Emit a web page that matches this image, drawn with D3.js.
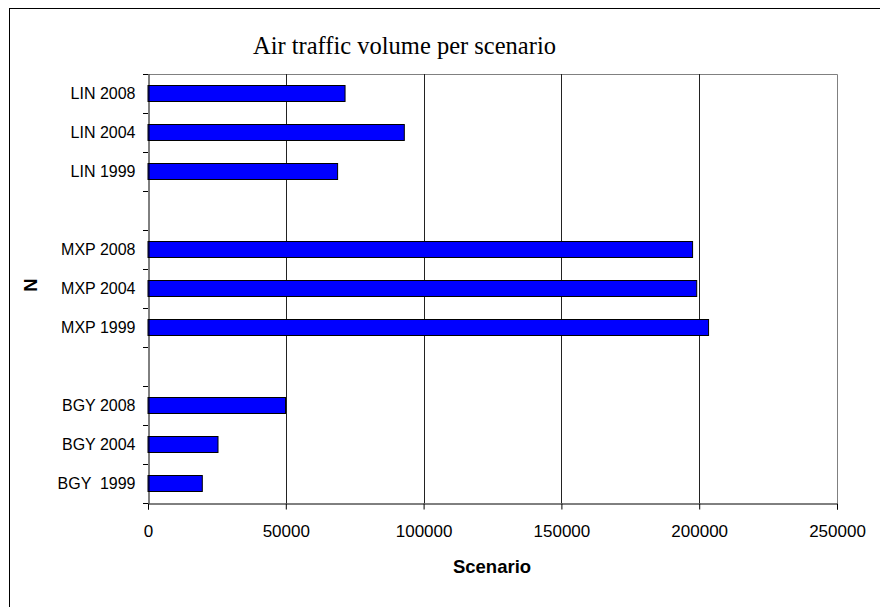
<!DOCTYPE html>
<html>
<head>
<meta charset="utf-8">
<script src="https://cdn.jsdelivr.net/npm/d3@7"></script>
<style>
  html, body { margin: 0; padding: 0; background: #fff; }
  svg { display: block; }
  text { font-family: Arial, "Liberation Sans", sans-serif; fill: #000; }
</style>
</head>
<body>
<svg id="chart" width="880" height="607"></svg>
<script>
// Scenario rows from top to bottom; empty strings are spacer rows between airports
const categories = ["LIN 2008", "LIN 2004", "LIN 1999", "", "MXP 2008", "MXP 2004", "MXP 1999", "", "BGY 2008", "BGY 2004", "BGY  1999"];
const volumes = [71500, 93000, 68800, null, 197600, 199100, 203400, null, 49900, 25400, 19700];
const xTicks = [0, 50000, 100000, 150000, 200000, 250000];

const svg = d3.select("#chart");
const margin = { left: 148, right: 837, top: 74, bottom: 503 };
const sans = "Arial, 'Liberation Sans', sans-serif";

// outer chart frame
svg.append("rect")
  .attr("x", 9.5).attr("y", 8.5)
  .attr("width", 900).attr("height", 700)
  .attr("fill", "none").attr("stroke", "#000").attr("stroke-width", 1);

const x = d3.scaleLinear().domain([0, 250000]).range([margin.left, margin.right]);
const rows = categories.map((c, i) => i);
const y = d3.scaleBand().domain(rows).range([margin.top, margin.bottom]).padding(0);
const step = y.step();
const barH = step * 0.41;

// plot border (top and right)
svg.append("path")
  .attr("d", `M${margin.left},${margin.top + 0.5}H${margin.right + 0.5}V${margin.bottom}`)
  .attr("fill", "none").attr("stroke", "#808080").attr("stroke-width", 1);

// vertical gridlines
svg.append("g").selectAll("line")
  .data(xTicks.filter(t => t > 0 && t < 250000))
  .join("line")
  .attr("x1", d => Math.round(x(d)) + 0.5).attr("x2", d => Math.round(x(d)) + 0.5)
  .attr("y1", margin.top).attr("y2", margin.bottom)
  .attr("stroke", "#222").attr("stroke-width", 1);

// bars
svg.append("g").selectAll("rect")
  .data(rows.filter(i => volumes[i] != null))
  .join("rect")
  .attr("x", x(0))
  .attr("y", i => y(i) + (step - barH) / 2)
  .attr("width", i => x(volumes[i]) - x(0))
  .attr("height", barH)
  .attr("fill", "#0000ff")
  .attr("stroke", "#000").attr("stroke-width", 1);

// x axis
const xAxis = svg.append("g")
  .attr("transform", `translate(0,${margin.bottom + 0.5})`)
  .call(d3.axisBottom(x).tickValues(xTicks).tickFormat(d3.format("d")).tickSize(6).tickPadding(15));
xAxis.select(".domain").attr("stroke", "#000");
xAxis.selectAll(".tick line").attr("stroke", "#000");
xAxis.selectAll("text").attr("font-size", 17).attr("font-family", sans);

// y axis: labels centred in rows, ticks at row boundaries
const yAxis = svg.append("g")
  .attr("transform", `translate(${margin.left + 0.5},0)`)
  .call(d3.axisLeft(y).tickFormat(i => categories[i]).tickSize(0).tickPadding(13));
yAxis.select(".domain").attr("stroke", "#000");
yAxis.selectAll("text")
  .attr("font-size", 16)
  .attr("font-family", sans)
  .style("white-space", "pre");

const bounds = rows.map(i => y(i)).concat([margin.bottom]);
svg.append("g").selectAll("line")
  .data(bounds)
  .join("line")
  .attr("x1", margin.left - 5).attr("x2", margin.left)
  .attr("y1", d => Math.round(d) + 0.5).attr("y2", d => Math.round(d) + 0.5)
  .attr("stroke", "#000");

// titles
svg.append("text")
  .attr("x", 253).attr("y", 54)
  .style("font-family", "'Liberation Serif', 'Times New Roman', serif")
  .attr("font-size", 24.5)
  .text("Air traffic volume per scenario");

svg.append("text")
  .attr("x", 492).attr("y", 573)
  .attr("text-anchor", "middle")
  .attr("font-size", 18.5).attr("font-weight", "bold")
  .text("Scenario");

svg.append("text")
  .attr("transform", "translate(37,285) rotate(-90)")
  .attr("text-anchor", "middle")
  .attr("font-size", 18.5).attr("font-weight", "bold")
  .text("N");
</script>
</body>
</html>
